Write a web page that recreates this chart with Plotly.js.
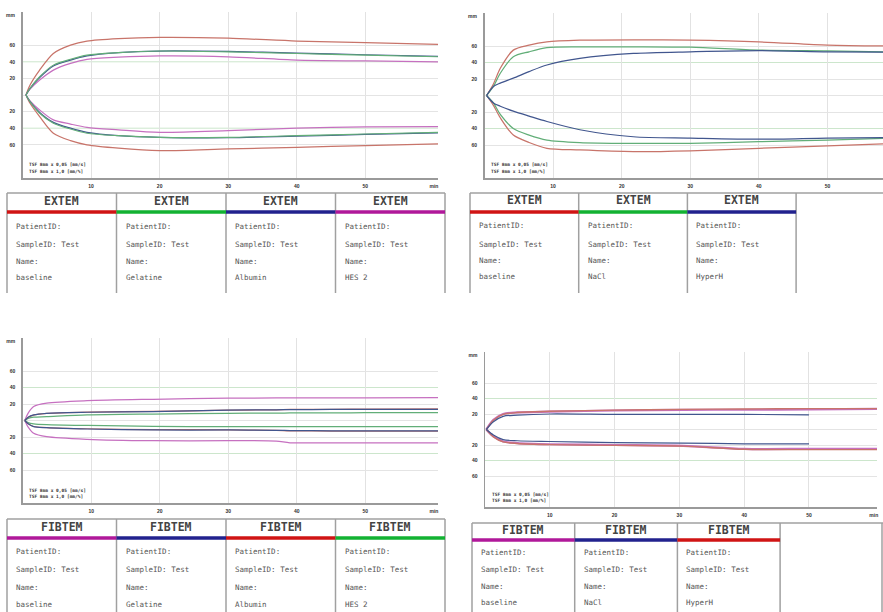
<!DOCTYPE html>
<html>
<head>
<meta charset="utf-8">
<script src="https://cdn.plot.ly/plotly-3.0.1.min.js"></script>
<style>html,body{margin:0;padding:0;background:#fff;}#chart{width:883px;height:612px;}</style>
</head>
<body>
<div id="chart"></div>
<script>
// ---------------- DATA ----------------
// Panel 1: EXTEM  (baseline red, Gelatine green, Albumin blue, HES 2 magenta)
const p1Time      = [0.5, 1.1, 2.5, 4.5, 7, 9.4, 14, 20, 30, 40, 50, 60.6];
const p1RedUp     = [0, 12, 30, 50, 60, 65, 68, 69.5, 68.5, 65, 63, 61];
const p1RedDown   = [0, 10, 26, 46, 55, 60, 64, 67, 65, 63, 61, 59];
const p1GreenUp   = [0, 8, 22, 36, 43, 48, 51, 53, 52, 50, 48, 46];
const p1GreenDown = [0, 8, 22, 34, 41, 46, 49, 51, 51, 49, 47, 45];
const p1BlueUp    = [0, 8, 21, 35, 42, 47, 51, 53, 52.5, 50.5, 48.5, 46.5];
const p1BlueDown  = [0, 8, 21, 33, 40, 45, 49, 51, 51.5, 49.5, 47.5, 45.5];
const p1MagUp     = [0, 7, 18, 30, 38, 43, 45.5, 47, 46, 42, 41, 40];
const p1MagDown   = [0, 7, 18, 30, 35, 39, 42, 45, 43, 40, 38.5, 38];

// Panel 2: EXTEM  (baseline red, NaCl green, HyperH blue)
const p2Time      = [0.3, 1.3, 2.3, 4.2, 6.5, 9.1, 13.9, 21.7, 30, 40, 50, 58.2];
const p2RedUp     = [0, 14, 33, 55, 61, 65, 67, 67.5, 67, 65, 61, 60];
const p2RedDown   = [0, 12, 27, 48, 57, 64, 66, 68, 67, 64, 61, 58.5];
const p2GreenUp   = [0, 11, 27, 47, 53, 58, 59, 59, 58.5, 55, 54, 53];
const p2GreenDown = [0, 9, 23, 40, 48, 54, 57, 58, 58, 56, 54, 52];
const p2BlueUp    = [0, 11, 15, 21, 29, 37, 45, 51, 53, 54.5, 53, 52.5];
const p2BlueDown  = [0, 9, 13, 19, 25, 31.5, 41.5, 50, 51.6, 53, 51.6, 51];

// Panel 3: FIBTEM (baseline magenta, Gelatine blue, Albumin red, HES 2 green)
const p3Time      = [0.3, 0.8, 1.6, 3.5, 9.4, 19, 30, 37, 39, 45, 50, 60.6];
const p3MagUp     = [0, 9, 17, 21, 24, 25.7, 27, 27.3, 27.5, 27.5, 27.5, 27.8];
const p3MagDown   = [0, 8, 15.5, 19.6, 22.8, 24.5, 24.5, 25, 27, 27, 27, 27];
const p3BlueUp    = [0, 4, 6.7, 8.7, 10, 10.7, 12.7, 13, 13.2, 13.4, 13.5, 13.6];
const p3BlueDown  = [0, 4, 7.5, 8.7, 10.3, 11.5, 11.5, 12, 12.2, 12.5, 12.6, 12.7];
const p3RedUp     = [0, 4, 6.5, 8.5, 10.2, 11, 12.5, 13, 13.4, 13.6, 13.8, 14];
const p3RedDown   = [0, 4, 7.3, 8.5, 10, 11, 11.3, 12, 12.5, 12.8, 13, 13];
const p3GreenUp   = [0, 2.5, 4, 4.6, 6.7, 7.8, 8.7, 9, 9.1, 9.3, 9.4, 9.5];
const p3GreenDown = [0, 2.5, 4, 5, 6, 7, 7.5, 7.5, 7.5, 7.5, 7.5, 7.5];

// Panel 4: FIBTEM (baseline magenta, NaCl blue, HyperH red)
const p4Time      = [0.2, 1.3, 2.8, 5, 10, 20, 30.6, 40, 50, 60.5];
const p4MagUp     = [0, 12.5, 20, 22, 23, 24.5, 25.4, 25.5, 26, 26.5];
const p4MagDown   = [0, 9, 15.5, 17.5, 19, 20, 21, 25, 25, 25];
const p4RedUp     = [0, 12, 19.5, 22, 23.5, 25, 26, 26.5, 27, 27];
const p4RedDown   = [0, 9.5, 16, 18, 19.5, 20.5, 21.5, 25.5, 26, 26];
const p4BlueTime  = [0.2, 1.3, 2.8, 5, 10, 20, 30.6, 40, 50];
const p4BlueUp    = [0, 10, 17, 18.5, 20, 19.5, 19.5, 19.5, 19];
const p4BlueDown  = [0, 7, 13, 14.5, 15.5, 17, 17.5, 18.5, 18.5];

// Axis tick labels
const xTickVals  = [10, 20, 30, 40, 50, 60];
const xTickText  = ['10', '20', '30', '40', '50', 'min'];
const yTickVals  = [-60, -40, -20, 20, 40, 60, 96];
const yTickText  = ['60', '40', '20', '20', '40', '60', 'mm'];

// Legend tables
const t1Titles = ['EXTEM', 'EXTEM', 'EXTEM', 'EXTEM'];
const t1Colors = ['red', 'green', 'blue', 'magenta'];
const t1Names  = ['baseline', 'Gelatine', 'Albumin', 'HES 2'];
const t2Titles = ['EXTEM', 'EXTEM', 'EXTEM'];
const t2Colors = ['red', 'green', 'blue'];
const t2Names  = ['baseline', 'NaCl', 'HyperH'];
const t3Titles = ['FIBTEM', 'FIBTEM', 'FIBTEM', 'FIBTEM'];
const t3Colors = ['magenta', 'blue', 'red', 'green'];
const t3Names  = ['baseline', 'Gelatine', 'Albumin', 'HES 2'];
const t4Titles = ['FIBTEM', 'FIBTEM', 'FIBTEM'];
const t4Colors = ['magenta', 'blue', 'red'];
const t4Names  = ['baseline', 'NaCl', 'HyperH'];
const rowLabels = ['PatientID:', 'SampleID: Test', 'Name:'];
const scaleNote = ['TSF 8mm x 0,05 [mm/s]', 'TSF 8mm x 1,0 [mm/%]'];

// ---------------- STYLE / LAYOUT ----------------
const W = 883, H = 612;
const fx = x => x / W;
const fy = y => 1 - y / H;
const lineCol = {red: '#c8746a', green: '#62ae78', blue: '#41568e', magenta: '#c670c0'};
const barCol  = {red: '#d01414', green: '#12b232', blue: '#22228e', magenta: '#b0189a'};

const panels = [
  {xd: [22.5, 438], yd: [12, 178], xr: [0, 60.6]},
  {xd: [484.5, 883], yd: [13, 178], xr: [0, 58.1]},
  {xd: [22.7, 438], yd: [338, 503], xr: [0, 60.6]},
  {xd: [485, 877], yd: [352, 507], xr: [0, 60.5]}
];

const series = [
  [ {t: p1Time, up: p1RedUp, dn: p1RedDown, c: 'red'},
    {t: p1Time, up: p1MagUp, dn: p1MagDown, c: 'magenta'},
    {t: p1Time, up: p1BlueUp, dn: p1BlueDown, c: 'blue'},
    {t: p1Time, up: p1GreenUp, dn: p1GreenDown, c: 'green', w: 1.1} ],
  [ {t: p2Time, up: p2RedUp, dn: p2RedDown, c: 'red'},
    {t: p2Time, up: p2GreenUp, dn: p2GreenDown, c: 'green'},
    {t: p2Time, up: p2BlueUp, dn: p2BlueDown, c: 'blue'} ],
  [ {t: p3Time, up: p3MagUp, dn: p3MagDown, c: 'magenta'},
    {t: p3Time, up: p3GreenUp, dn: p3GreenDown, c: 'green'},
    {t: p3Time, up: p3RedUp, dn: p3RedDown, c: 'red'},
    {t: p3Time, up: p3BlueUp, dn: p3BlueDown, c: 'blue'} ],
  [ {t: p4Time, up: p4MagUp, dn: p4MagDown, c: 'magenta', w: 2.2},
    {t: p4Time, up: p4RedUp, dn: p4RedDown, c: 'red', w: 1.4},
    {t: p4BlueTime, up: p4BlueUp, dn: p4BlueDown, c: 'blue', w: 1.2} ]
];

const tables = [
  {titles: t1Titles, colors: t1Colors, names: t1Names, left: 7, colW: 109.5, top: 193, bottom: 293,
   lineEnd: 445, extraV: [445], titleY: 201, barY: 212, rowY: [226, 244, 261, 278]},
  {titles: t2Titles, colors: t2Colors, names: t2Names, left: 470, colW: 108.7, top: 193, bottom: 293,
   lineEnd: 883, extraV: [], titleY: 200.5, barY: 212, rowY: [225.5, 244, 260, 277]},
  {titles: t3Titles, colors: t3Colors, names: t3Names, left: 7, colW: 109.5, top: 519, bottom: 612,
   lineEnd: 445, extraV: [445], titleY: 527, barY: 538, rowY: [551, 569, 587, 604]},
  {titles: t4Titles, colors: t4Colors, names: t4Names, left: 472, colW: 102.7, top: 523, bottom: 612,
   lineEnd: 883, extraV: [882], titleY: 529.5, barY: 540, rowY: [552, 569, 586, 602]}
];

const traces = [];
const layout = {
  width: W, height: H, margin: {l: 0, r: 0, t: 0, b: 0},
  paper_bgcolor: '#ffffff', plot_bgcolor: 'rgba(0,0,0,0)',
  showlegend: false, shapes: [], annotations: []
};

const tickFont = {family: 'Liberation Sans, Arial, sans-serif', size: 5, color: '#333', weight: 'bold'};

panels.forEach((p, i) => {
  const n = i === 0 ? '' : String(i + 1);
  const xa = 'x' + n, ya = 'y' + n;
  layout['xaxis' + n] = {
    domain: [fx(p.xd[0]), fx(p.xd[1])], range: p.xr, anchor: ya,
    showgrid: false, zeroline: false, showline: true, linecolor: '#9a9a9a', linewidth: 1.5,
    tickmode: 'array', tickvals: xTickVals, ticktext: xTickText, ticks: '',
    ticklabelstandoff: 2, tickfont: tickFont, fixedrange: true,
    minor: {tickmode: 'array', tickvals: [10, 20, 30, 40, 50], showgrid: true, gridcolor: '#e2e2e2', gridwidth: 1, ticks: ''}
  };
  layout['yaxis' + n] = {
    domain: [fy(p.yd[1]), fy(p.yd[0])], range: [-100, 100], anchor: xa,
    showgrid: false, zeroline: false, showline: true, linecolor: '#9a9a9a', linewidth: 1.5,
    tickmode: 'array', tickvals: yTickVals, ticktext: yTickText, ticks: '',
    ticklabelstandoff: 5, tickfont: tickFont, fixedrange: true,
    minor: {tickmode: 'array', tickvals: [-60, -20, 0, 20, 60], showgrid: true, gridcolor: '#e4e4e4', gridwidth: 1, ticks: ''}
  };
  [40, -40].forEach(v => {
    layout.shapes.push({type: 'line', xref: xa + ' domain', x0: 0, x1: 1, yref: ya, y0: v, y1: v,
      line: {color: '#cce6cc', width: 1}, layer: 'below'});
  });
  series[i].forEach(s => {
    const w = s.w || 1.25;
    traces.push({x: s.t, y: s.up, xaxis: xa, yaxis: ya, type: 'scatter', mode: 'lines',
      line: {color: lineCol[s.c], width: w, shape: 'spline', smoothing: 0.8}, hoverinfo: 'skip'});
    traces.push({x: s.t, y: s.dn.map(v => -v), xaxis: xa, yaxis: ya, type: 'scatter', mode: 'lines',
      line: {color: lineCol[s.c], width: w, shape: 'spline', smoothing: 0.8}, hoverinfo: 'skip'});
  });
  scaleNote.forEach((txt, k) => {
    layout.annotations.push({xref: 'paper', yref: 'paper', x: fx(p.xd[0] + 4.5), y: fy(p.yd[1] - 13 + k * 6),
      xanchor: 'left', yanchor: 'middle', showarrow: false, text: txt,
      font: {family: 'DejaVu Sans Mono, monospace', size: 4.5, color: '#333', weight: 'bold'}});
  });
});

const border = '#a0a0a0';
tables.forEach(t => {
  layout.shapes.push({type: 'line', xref: 'paper', yref: 'paper', x0: fx(t.left), x1: fx(t.lineEnd),
    y0: fy(t.top), y1: fy(t.top), line: {color: border, width: 1.5}});
  const vx = [];
  for (let k = 0; k <= t.titles.length; k++) vx.push(t.left + k * t.colW);
  t.extraV.forEach(v => { if (!vx.some(q => Math.abs(q - v) < 3)) vx.push(v); });
  vx.forEach(v => layout.shapes.push({type: 'line', xref: 'paper', yref: 'paper', x0: fx(v), x1: fx(v),
    y0: fy(t.top), y1: fy(t.bottom), line: {color: border, width: 1.5}}));
  t.titles.forEach((title, k) => {
    const c0 = t.left + k * t.colW, c1 = c0 + t.colW;
    layout.shapes.push({type: 'rect', xref: 'paper', yref: 'paper', x0: fx(c0), x1: fx(c1),
      y0: fy(t.barY + 1.8), y1: fy(t.barY - 1.8), fillcolor: barCol[t.colors[k]], line: {width: 0}});
    layout.annotations.push({xref: 'paper', yref: 'paper', x: fx((c0 + c1) / 2), y: fy(t.titleY),
      xanchor: 'center', yanchor: 'middle', showarrow: false, text: title,
      font: {family: 'DejaVu Sans Mono, monospace', size: 11.5, color: '#444', weight: 'bold'}});
    const rows = rowLabels.concat([t.names[k]]);
    rows.forEach((r, j) => {
      layout.annotations.push({xref: 'paper', yref: 'paper', x: fx(c0 + 7), y: fy(t.rowY[j]),
        xanchor: 'left', yanchor: 'middle', showarrow: false, text: r,
        font: {family: 'DejaVu Sans Mono, monospace', size: 7.5, color: '#555'}});
    });
  });
});

Plotly.newPlot('chart', traces, layout, {staticPlot: true, displayModeBar: false});
</script>
</body>
</html>
